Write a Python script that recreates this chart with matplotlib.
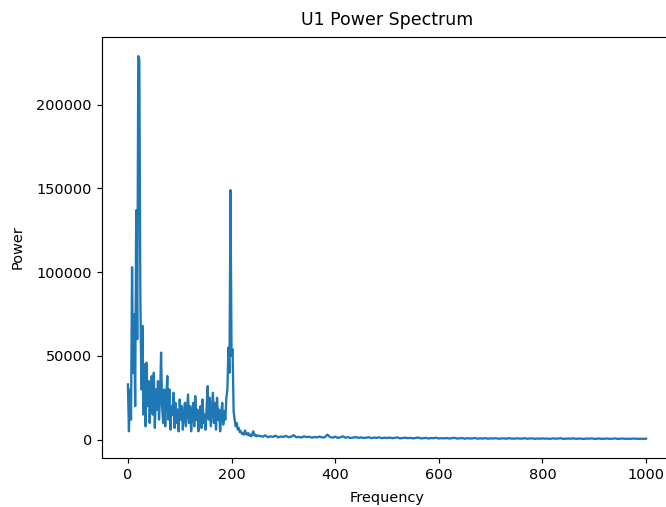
import matplotlib
matplotlib.use("Agg")
import matplotlib.pyplot as plt
import numpy as np

# Low-frequency part, 2 Hz steps from 0 to 250
freq_low = list(range(0, 252, 2))
power_low = [
    33000, 5000, 30000, 12000, 103000, 40000, 75000, 20000, 137000, 60000,
    229000, 227000, 87000, 30000, 68000, 15000, 45000, 8000, 46000, 20000,
    35000, 10000, 28000, 38000, 15000, 40000, 7000, 30000, 18000, 35000,
    12000, 25000, 52000, 20000, 10000, 30000, 8000, 25000, 38000, 12000,
    30000, 6000, 20000, 15000, 28000, 7000, 22000, 10000, 18000, 5000,
    24000, 12000, 20000, 6000, 15000, 22000, 8000, 18000, 27000, 10000,
    20000, 5000, 16000, 22000, 8000, 26000, 12000, 18000, 5000, 14000,
    20000, 7000, 24000, 10000, 15000, 6000, 20000, 32000, 12000, 25000,
    8000, 18000, 28000, 10000, 22000, 6000, 25000, 12000, 18000, 5000,
    15000, 22000, 9000, 17000, 12000, 25000, 30000, 55000, 40000, 149000,
    50000, 54000, 17000, 12000, 8000, 10000, 6000, 7000, 4500, 5000,
    3500, 4000, 3000, 5500, 3500, 3000, 4000, 2500, 3000, 2000,
    3500, 5000, 2500, 3000, 2000, 2500,
]

# High-frequency tail, 5 Hz steps from 255 to 1000
freq_high = list(range(255, 1005, 5))
power_high = [
    2200, 1800, 2600, 1500, 2000, 1700, 2400, 1400, 1900, 1600,
    2300, 1500, 1800, 2700, 1400, 1700, 1300, 2000, 1500, 1800,
    1200, 1600, 1400, 1900, 1300, 1500, 3000, 1600, 1200, 1800,
    1100, 1400, 2000, 1200, 1500, 1000, 1300, 1600, 1100, 1400,
    1000, 1200, 1500, 900, 1300, 1100, 1400, 900, 1200, 1000,
    1300, 900, 1100, 1400, 800, 1000, 1200, 900, 1100, 800,
    1000, 1300, 800, 900, 1100, 700, 1000, 900, 1200, 700,
    900, 800, 1000, 700, 900, 1100, 700, 800, 1000, 600,
    900, 700, 800, 1000, 600, 800, 700, 900, 600, 800,
    700, 900, 600, 700, 800, 600, 900, 700, 600, 800,
    700, 600, 900, 600, 700, 800, 500, 700, 600, 800,
    600, 700, 500, 800, 600, 700, 900, 500, 600, 700,
    600, 800, 500, 700, 600, 500, 700, 600, 800, 500,
    600, 700, 500, 600, 700, 500, 600, 800, 500, 600,
    700, 500, 600, 500, 700, 600, 500, 600, 500, 600,
]

freq = np.array(freq_low + freq_high)
power = np.array(power_low + power_high)

DPI = 104
fig = plt.figure(figsize=(666 / DPI, 507 / DPI), dpi=DPI)
ax = fig.add_axes([102/666, 1 - 458/507, 570/666, 421/507])
ax.plot(freq, power, color="#1f77b4", linewidth=1.6)
ax.set_title("U1 Power Spectrum", pad=8)
ax.set_xlabel("Frequency", labelpad=6)
ax.set_ylabel("Power", labelpad=8)
fig.savefig("out.png", dpi=DPI)
